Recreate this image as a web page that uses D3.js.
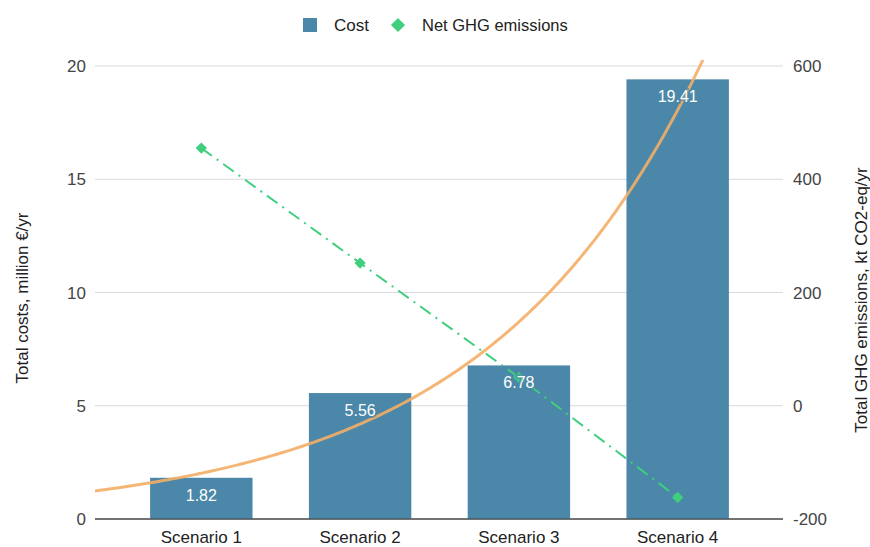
<!DOCTYPE html>
<html>
<head>
<meta charset="utf-8">
<script src="https://cdn.jsdelivr.net/npm/d3@7"></script>
<style>
  body { margin: 0; background: #fff; }
  text { font-family: Arial, "Liberation Sans", sans-serif; }
</style>
</head>
<body>
<svg id="chart" width="870" height="547"></svg>
<script>
// chart data
const scenarios = ["Scenario 1", "Scenario 2", "Scenario 3", "Scenario 4"];
const costs = [1.82, 5.56, 6.78, 19.41];
const emissions = [455, 252, 50, -162];
const costTicks = [0, 5, 10, 15, 20];
const ghgTicks = [-200, 0, 200, 400, 600];

const svg = d3.select("#chart");

// plot area
const plotTop = 66, plotBottom = 519;
const gridLeft = 95, gridRight = 783;
const fs = 17;

const x = d3.scaleBand().domain(scenarios).range([122, 757]).paddingInner(0.355).paddingOuter(0.177);
const yL = d3.scaleLinear().domain([0, 20]).range([plotBottom, plotTop]);
const yR = d3.scaleLinear().domain([-200, 600]).range([plotBottom, plotTop]);

// continuous position for the trendline (category index 1..4)
const xi = d3.scaleLinear().domain([1, 4]).range([x(scenarios[0]) + x.bandwidth() / 2, x(scenarios[3]) + x.bandwidth() / 2]);

// gridlines
svg.append("g").selectAll("line")
  .data(costTicks)
  .join("line")
  .attr("x1", gridLeft).attr("x2", gridRight)
  .attr("y1", d => yL(d)).attr("y2", d => yL(d))
  .attr("stroke", d => d === 0 ? "#444" : "#d9d9d9")
  .attr("stroke-width", 1);

// left ticks
svg.append("g").selectAll("text")
  .data(costTicks)
  .join("text")
  .attr("x", 86).attr("y", d => yL(d) + 6)
  .attr("text-anchor", "end")
  .attr("font-size", fs).attr("fill", "#444")
  .text(d => d);

// right ticks
svg.append("g").selectAll("text")
  .data(ghgTicks)
  .join("text")
  .attr("x", 793).attr("y", d => yR(d) + 6)
  .attr("text-anchor", "start")
  .attr("font-size", fs).attr("fill", "#444")
  .text(d => d);

// bars
svg.append("g").selectAll("rect")
  .data(costs)
  .join("rect")
  .attr("x", (d, i) => x(scenarios[i]))
  .attr("width", x.bandwidth())
  .attr("y", d => yL(d))
  .attr("height", d => yL(0) - yL(d))
  .attr("fill", "#4b87a8");

// redraw zero line over bars
svg.append("line")
  .attr("x1", gridLeft).attr("x2", gridRight)
  .attr("y1", yL(0)).attr("y2", yL(0))
  .attr("stroke", "#444").attr("stroke-width", 1);

// exponential trendline fitted to the costs
const lnC = costs.map(Math.log);
const idx = costs.map((d, i) => i + 1);
const mx = d3.mean(idx), my = d3.mean(lnC);
const b = d3.sum(idx, (d, i) => (d - mx) * (lnC[i] - my)) / d3.sum(idx, d => (d - mx) * (d - mx));
const a = Math.exp(my - b * mx);
const trendPts = d3.range(xi.invert(gridLeft), xi.invert(gridRight), 0.02).map(t => [t, a * Math.exp(b * t)]);

svg.append("clipPath").attr("id", "plotclip")
  .append("rect").attr("x", gridLeft).attr("y", plotTop - 6).attr("width", gridRight - gridLeft).attr("height", plotBottom - plotTop + 6);

svg.append("path")
  .datum(trendPts)
  .attr("clip-path", "url(#plotclip)")
  .attr("fill", "none")
  .attr("stroke", "#f4ae66")
  .attr("stroke-width", 3)
  .attr("stroke-opacity", 0.9)
  .attr("d", d3.line().x(d => xi(d[0])).y(d => yL(d[1])));

// emissions line
const ghgLine = d3.line()
  .x((d, i) => x(scenarios[i]) + x.bandwidth() / 2)
  .y(d => yR(d));

svg.append("path")
  .datum(emissions)
  .attr("fill", "none")
  .attr("stroke", "#3fcf7f")
  .attr("stroke-width", 2)
  .attr("stroke-dasharray", "13,6,2,6")
  .attr("d", ghgLine);

svg.append("g").selectAll("rect")
  .data(emissions)
  .join("rect")
  .attr("x", -4).attr("y", -4).attr("width", 8).attr("height", 8)
  .attr("transform", (d, i) => `translate(${x(scenarios[i]) + x.bandwidth() / 2},${yR(d)}) rotate(45)`)
  .attr("fill", "#3fcf7f");

// bar labels
svg.append("g").selectAll("text")
  .data(costs)
  .join("text")
  .attr("x", (d, i) => x(scenarios[i]) + x.bandwidth() / 2)
  .attr("y", d => yL(d) + 23)
  .attr("text-anchor", "middle")
  .attr("font-size", 16)
  .attr("fill", "#fff")
  .attr("stroke", "#4b87a8").attr("stroke-width", 4).attr("stroke-opacity", 0.6)
  .attr("paint-order", "stroke")
  .text(d => d.toFixed(2));

// category labels
svg.append("g").selectAll("text")
  .data(scenarios)
  .join("text")
  .attr("x", d => x(d) + x.bandwidth() / 2)
  .attr("y", 543)
  .attr("text-anchor", "middle")
  .attr("font-size", fs).attr("fill", "#222")
  .text(d => d);

// axis titles
svg.append("text")
  .attr("transform", "translate(28,298) rotate(-90)")
  .attr("text-anchor", "middle")
  .attr("font-size", fs).attr("fill", "#222")
  .text("Total costs, million €/yr");

svg.append("text")
  .attr("transform", "translate(867,300) rotate(-90)")
  .attr("text-anchor", "middle")
  .attr("font-size", fs).attr("fill", "#222")
  .text("Total GHG emissions, kt CO2-eq/yr");

// legend
const legend = svg.append("g");
legend.append("rect").attr("x", 303).attr("y", 18).attr("width", 14).attr("height", 14).attr("fill", "#4b87a8");
legend.append("text").attr("x", 334).attr("y", 31).attr("font-size", fs).attr("fill", "#222").text("Cost");
legend.append("rect").attr("x", -5).attr("y", -5).attr("width", 10).attr("height", 10)
  .attr("transform", "translate(398,25) rotate(45)").attr("fill", "#3fcf7f");
legend.append("text").attr("x", 422).attr("y", 31).attr("font-size", 16.5).attr("fill", "#222").text("Net GHG emissions");
</script>
</body>
</html>
